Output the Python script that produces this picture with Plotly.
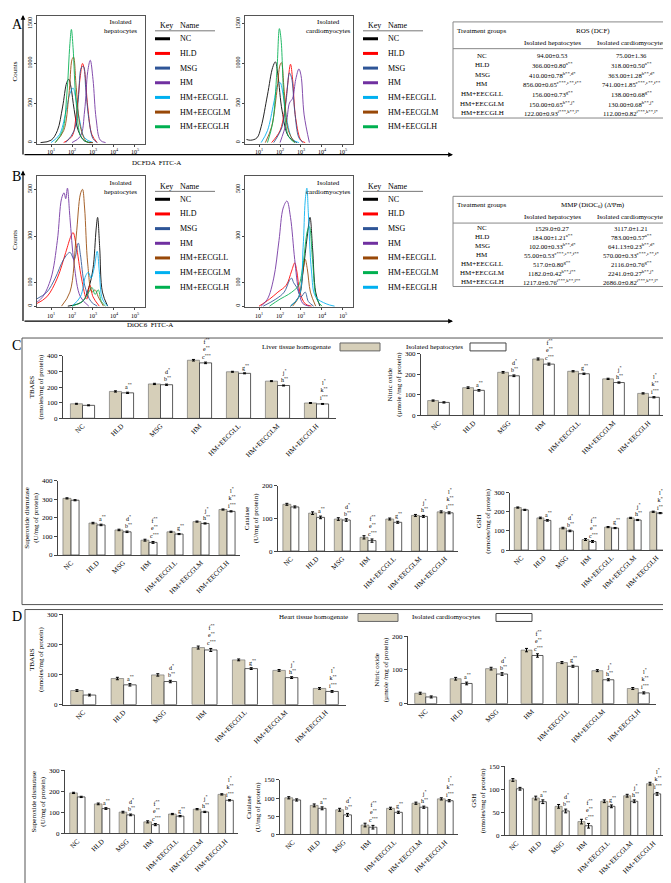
import plotly.graph_objects as go

W, H = 671, 883
FONT = "Liberation Serif"

GROUPS = ["NC", "HLD", "MSG", "HM", "HM+EECGLL", "HM+EECGLM", "HM+EECGLH"]

# ---------------- flow cytometry histograms (x = log10 intensity, y = counts)
A_HEP = {
    "NC": ([0.5, 1.0, 1.3, 1.55, 1.75, 1.85, 1.95, 2.1, 2.3, 2.6, 3.0], [0, 30, 150, 450, 760, 800, 700, 420, 150, 20, 0]),
    "HLD": ([1.6, 2.0, 2.2, 2.4, 2.5, 2.6, 2.75, 2.95, 3.2], [0, 80, 350, 850, 1000, 900, 450, 100, 0]),
    "MSG": ([1.7, 2.1, 2.3, 2.45, 2.55, 2.65, 2.8, 3.0, 3.2], [0, 150, 550, 950, 960, 700, 300, 50, 0]),
    "HM": ([2.0, 2.4, 2.6, 2.75, 2.87, 3.0, 3.15, 3.35, 3.6], [0, 80, 400, 900, 1040, 800, 300, 30, 0]),
    "HM+EECGLL": ([1.0, 1.4, 1.7, 1.9, 2.05, 2.15, 2.35, 2.6, 3.0], [0, 100, 380, 620, 690, 600, 300, 60, 0]),
    "HM+EECGLM": ([1.2, 1.6, 1.85, 2.0, 2.07, 2.2, 2.4, 2.7, 3.0], [0, 150, 600, 1050, 1080, 700, 200, 10, 0]),
    "HM+EECGLH": ([1.2, 1.55, 1.75, 1.9, 1.97, 2.05, 2.2, 2.45, 2.8], [0, 150, 600, 1250, 1430, 1200, 500, 60, 0]),
}
A_CAR = {
    "NC": ([0.4, 0.6, 0.9, 1.1, 1.4, 1.65, 1.78, 1.9, 2.1, 2.4, 2.8], [40, 30, 60, 200, 600, 950, 1020, 850, 400, 80, 0]),
    "HLD": ([1.6, 2.0, 2.2, 2.35, 2.5, 2.6, 2.75, 3.0, 3.2], [0, 150, 380, 700, 990, 800, 300, 30, 0]),
    "MSG": ([1.7, 2.1, 2.3, 2.45, 2.55, 2.7, 2.9, 3.1], [0, 200, 550, 880, 820, 400, 60, 0]),
    "HM": ([2.0, 2.3, 2.45, 2.6, 2.75, 2.9, 3.0, 3.15, 3.4], [0, 250, 500, 560, 800, 930, 850, 350, 0]),
    "HM+EECGLL": ([1.1, 1.4, 1.7, 1.9, 2.0, 2.15, 2.35, 2.6, 2.9], [0, 150, 500, 740, 760, 600, 250, 40, 0]),
    "HM+EECGLM": ([1.3, 1.6, 1.85, 2.0, 2.07, 2.2, 2.4, 2.7], [0, 200, 650, 980, 1010, 650, 150, 0]),
    "HM+EECGLH": ([1.4, 1.65, 1.85, 1.97, 2.05, 2.2, 2.4, 2.7], [0, 250, 900, 1440, 1300, 500, 80, 0]),
}
B_HEP = {
    "NC": ([1.8, 2.5, 2.8, 3.0, 3.15, 3.22, 3.32, 3.45, 3.7], [0, 20, 80, 160, 330, 380, 250, 60, 0]),
    "HLD": ([0.3, 0.8, 1.3, 1.7, 1.95, 2.05, 2.2, 2.45, 2.7, 2.85, 3.0, 3.3], [10, 40, 120, 230, 300, 315, 260, 120, 30, 90, 40, 0]),
    "MSG": ([0.3, 0.8, 1.2, 1.6, 1.9, 2.1, 2.3, 2.4, 2.6, 2.9, 3.2], [30, 60, 120, 200, 230, 200, 270, 220, 90, 20, 0]),
    "HM": ([0.26, 0.32, 0.6, 1.0, 1.3, 1.5, 1.62, 1.7, 1.78, 1.9, 2.1, 2.4, 2.8], [60, 20, 40, 120, 280, 460, 485, 460, 505, 380, 180, 40, 0]),
    "HM+EECGLL": ([1.5, 1.9, 2.2, 2.4, 2.5, 2.6, 2.75, 2.95, 3.1, 3.25, 3.5], [0, 60, 300, 480, 500, 420, 180, 60, 70, 40, 0]),
    "HM+EECGLM": ([2.0, 2.4, 2.65, 2.78, 2.9, 3.05, 3.2, 3.3, 3.45, 3.7], [0, 40, 130, 145, 120, 160, 235, 150, 30, 0]),
    "HM+EECGLH": ([2.0, 2.5, 2.8, 2.95, 3.1, 3.25, 3.4, 3.6], [0, 20, 60, 80, 50, 70, 20, 0]),
}
B_CAR = {
    "NC": ([2.5, 2.9, 3.1, 3.3, 3.43, 3.55, 3.7, 3.9], [0, 40, 150, 300, 380, 250, 60, 0]),
    "HLD": ([1.0, 1.5, 1.9, 2.3, 2.55, 2.7, 2.8, 2.95, 3.2, 3.5], [0, 30, 60, 90, 150, 185, 150, 60, 10, 0]),
    "MSG": ([1.2, 1.8, 2.2, 2.45, 2.55, 2.65, 2.8, 3.0, 3.2, 3.35, 3.6], [0, 30, 60, 110, 120, 100, 80, 40, 60, 20, 0]),
    "HM": ([1.1, 1.4, 1.7, 1.95, 2.15, 2.33, 2.5, 2.7, 2.9, 3.1, 3.4], [0, 30, 120, 280, 420, 450, 380, 200, 60, 10, 0]),
    "HM+EECGLL": ([2.6, 2.9, 3.05, 3.2, 3.3, 3.45, 3.7], [0, 40, 120, 200, 160, 60, 0]),
    "HM+EECGLM": ([1.5, 2.0, 2.4, 2.7, 2.9, 3.1, 3.3, 3.4, 3.55, 3.75, 4.0], [0, 30, 50, 70, 90, 180, 320, 340, 200, 30, 0]),
    "HM+EECGLH": ([2.5, 2.9, 3.1, 3.2, 3.28, 3.35, 3.5, 3.7, 4.2, 4.6], [0, 40, 250, 450, 505, 400, 150, 40, 10, 0]),
}
A_COLORS = {"NC": "#000000", "HLD": "#ff0000", "MSG": "#2e5597", "HM": "#7030a0",
            "HM+EECGLL": "#00b0f0", "HM+EECGLM": "#984807", "HM+EECGLH": "#00b050"}
B_HEP_COLORS = {"NC": "#000000", "HLD": "#ff0000", "MSG": "#2e5597", "HM": "#7030a0",
                "HM+EECGLL": "#984807", "HM+EECGLM": "#00b0f0", "HM+EECGLH": "#00b050"}
B_CAR_COLORS = {"NC": "#000000", "HLD": "#ff0000", "MSG": "#2e5597", "HM": "#7030a0",
                "HM+EECGLL": "#984807", "HM+EECGLM": "#00b050", "HM+EECGLH": "#00b0f0"}

# ---------------- tables
ROS_HEP = ["94.00±0.53", "366.00±0.80<sup>a**</sup>", "410.00±0.78<sup>b**,d*</sup>",
           "856.00±0.65<sup>c***,e**,f**</sup>", "156.00±0.73<sup>g**</sup>",
           "150.00±0.65<sup>h**,j*</sup>", "122.00±0.93<sup>i***,k**,l*</sup>"]
ROS_CAR = ["75.00±1.36", "318.00±0.50<sup>a**</sup>", "363.00±1.28<sup>b**,d*</sup>",
           "741.00±1.85<sup>c***,e**,f**</sup>", "138.00±0.68<sup>g**</sup>",
           "130.00±0.68<sup>h**,j*</sup>", "112.00±0.82<sup>i***,k**,l*</sup>"]
MMP_HEP = ["1529.0±0.27", "184.00±1.21<sup>a**</sup>", "102.00±0.33<sup>b**,d*</sup>",
           "55.00±0.53<sup>c***,e**,f**</sup>", "517.0±0.80<sup>g**</sup>",
           "1182.0±0.42<sup>h**,j**</sup>", "1217.0±0.76<sup>i***,k**,l**</sup>"]
MMP_CAR = ["3117.0±1.21", "783.00±0.57<sup>a**</sup>", "641.13±0.23<sup>b**,d*</sup>",
           "570.00±0.33<sup>c***,e**,f*</sup>", "2116.0±0.76<sup>g**</sup>",
           "2241.0±0.27<sup>h**,j*</sup>", "2686.0±0.82<sup>i***,k**,l*</sup>"]

# ---------------- biochemical bar data (tissue homogenate, isolated cells, errors)
C_TBARS_T = [93, 172, 220, 372, 298, 238, 98];   C_TBARS_C = [83, 163, 215, 355, 288, 210, 92]
C_NO_T = [72, 135, 210, 275, 215, 178, 107];     C_NO_C = [63, 122, 193, 250, 203, 160, 88]
C_SOD_T = [305, 172, 135, 80, 125, 180, 245];    C_SOD_C = [295, 162, 125, 68, 113, 170, 235]
C_CAT_T = [143, 116, 98, 42, 98, 109, 120];      C_CAT_C = [135, 103, 95, 32, 88, 106, 117]
C_GSH_T = [222, 168, 115, 55, 120, 168, 200];    C_GSH_C = [210, 155, 100, 45, 115, 157, 193]
D_TBARS_T = [47, 87, 99, 190, 149, 114, 54];     D_TBARS_C = [32, 66, 77, 182, 120, 90, 44]
D_NO_T = [31, 74, 104, 159, 122, 98, 45];        D_NO_C = [20, 60, 88, 143, 111, 71, 32]
D_SOD_T = [192, 140, 101, 55, 92, 115, 185];     D_SOD_C = [173, 118, 88, 42, 82, 102, 157]
D_CAT_T = [101, 80, 68, 26, 72, 86, 98];         D_CAT_C = [95, 72, 54, 20, 61, 75, 93]
D_GSH_T = [120, 81, 63, 30, 74, 86, 112];        D_GSH_C = [101, 73, 53, 21, 63, 74, 90]
ERR_T = [3, 4, 4, 5, 3, 3, 3]
ERR_C = [3, 4, 4, 5, 3, 3, 3]
SIG = ["", "a<sup>**</sup>", "d<sup>*</sup><br>b<sup>**</sup>",
       "f<sup>**</sup><br>e<sup>**</sup><br>c<sup>***</sup>", "g<sup>**</sup>",
       "j<sup>*</sup><br>h<sup>**</sup>", "l<sup>*</sup><br>k<sup>**</sup><br>i<sup>***</sup>"]

# ---------------- helpers
def px(x):
    return x / W

def py(y):
    return 1 - y / H

def txt(x, y, text, size=7, xa="center", ya="middle", angle=0, color="black"):
    return dict(x=px(x), y=py(y), xref="paper", yref="paper", text=text, showarrow=False,
                xanchor=xa, yanchor=ya, textangle=angle,
                font=dict(family=FONT, size=size, color=color))

def rect(x0, y0, x1, y1, fill="rgba(0,0,0,0)", color="#444", width=1):
    return dict(type="rect", xref="paper", yref="paper", x0=px(x0), x1=px(x1),
                y0=py(y1), y1=py(y0), fillcolor=fill, line=dict(color=color, width=width))

def hline(x0, x1, y, color="#444", width=1):
    return dict(type="line", xref="paper", yref="paper", x0=px(x0), x1=px(x1),
                y0=py(y), y1=py(y), line=dict(color=color, width=width))

fig = go.Figure()
annotations, shapes, layout = [], [], {}

# ---------------- histograms
hist_specs = [
    (A_HEP, A_COLORS, 29, 137, 4, 133, [-15, 1600], [0, 500, 1000, 1500], "Isolated<br>hepatocytes"),
    (A_CAR, A_COLORS, 237, 345, 4, 133, [-15, 1600], [0, 500, 1000, 1500], "Isolated<br>cardiomyocytes"),
    (B_HEP, B_HEP_COLORS, 29, 137, 166, 298, [-5, 555], [0, 100, 300, 500], "Isolated<br>hepatocytes"),
    (B_CAR, B_CAR_COLORS, 237, 345, 166, 298, [-5, 555], [0, 100, 300, 500], "Isolated<br>cardiomyocytes"),
]
n = 0
for data, cols, x0, x1, y0, y1, yr, yt, label in hist_specs:
    n += 1
    for name in GROUPS:
        xs, ys = data[name]
        fig.add_trace(go.Scatter(x=xs, y=ys, mode="lines", line=dict(color=cols[name], width=1, shape="spline"),
                                 opacity=0.85, showlegend=False, xaxis=f"x{n}", yaxis=f"y{n}"))
    layout[f"xaxis{n}"] = dict(domain=[px(x0), px(x1)], anchor=f"y{n}", range=[0.33, 5.48],
                               tickvals=[1, 2, 3, 4, 5],
                               ticktext=["10<sup>1</sup>", "10<sup>2</sup>", "10<sup>3</sup>", "10<sup>4</sup>", "10<sup>5</sup>"],
                               tickfont=dict(family=FONT, size=6), ticks="outside", ticklen=2,
                               showline=True, mirror=True, linecolor="#555", linewidth=1,
                               showgrid=False, zeroline=False)
    layout[f"yaxis{n}"] = dict(domain=[py(y1), py(y0)], anchor=f"x{n}", range=yr, tickvals=yt,
                               tickangle=-90, tickfont=dict(family=FONT, size=6), ticks="outside", ticklen=2,
                               showline=True, mirror=True, linecolor="#555", linewidth=1,
                               showgrid=False, zeroline=False)
    annotations.append(txt(x1 - 25, y0 + 11, label, size=7))
    # legend
    lx = x1 + 10
    annotations.append(txt(lx + 3, y0 + 10, "Key", size=8, xa="left"))
    annotations.append(txt(lx + 23, y0 + 10, "Name", size=8, xa="left"))
    hy = y0 + 15
    shapes.append(hline(lx, lx + 60, hy, color="#777"))
    for i, name in enumerate(GROUPS):
        ry = hy + 8 + i * 14.8
        shapes.append(hline(lx, lx + 15, ry, color=cols[name], width=3))
        annotations.append(txt(lx + 23, ry, name, size=8, xa="left"))

annotations.append(txt(7, 60, "Counts", size=7, angle=-90))
annotations.append(txt(7, 230, "Counts", size=7, angle=-90))
annotations.append(txt(148, 152, "DCFDA  FITC-A", size=7))
annotations.append(txt(142, 316, "DiOC6  FITC-A", size=7))
annotations.append(txt(2, 13, "A", size=14, xa="left"))
annotations.append(txt(2, 166, "B", size=14, xa="left"))
annotations.append(txt(2, 337, "C", size=14, xa="left"))
annotations.append(txt(2, 610, "D", size=14, xa="left"))

# arrows of panels A and B
for top, bottom in [(3, 144), (160, 312)]:
    annotations.append(dict(x=px(15), y=py(top), xref="paper", yref="paper", ax=0, ay=bottom - top,
                            text="", showarrow=True, arrowhead=2, arrowsize=0.8, arrowwidth=1.2, arrowcolor="black"))
    annotations.append(dict(x=px(445), y=py(bottom), xref="paper", yref="paper", ax=-430, ay=0,
                            text="", showarrow=True, arrowhead=2, arrowsize=0.8, arrowwidth=1.2, arrowcolor="black"))

# ---------------- tables
def table(top, bottom, head2, hep, car, row0, step):
    shapes.append(rect(445, top, 666, bottom, color="#888"))
    annotations.append(txt(474, top + 9, "Treatment groups", size=7))
    annotations.append(txt(585, top + 9, head2, size=7))
    shapes.append(hline(445, 666, top + 27, color="#888"))
    annotations.append(txt(544, top + 21, "Isolated hepatocytes", size=7))
    annotations.append(txt(623, top + 21, "Isolated cardiomyocytes", size=7))
    for i, g in enumerate(GROUPS):
        y = row0 + i * step
        annotations.append(txt(474, y, g, size=7))
        annotations.append(txt(544, y, hep[i], size=6.7))
        annotations.append(txt(623, y, car[i], size=6.7))

table(10, 107, "ROS (DCF)", ROS_HEP, ROS_CAR, 44, 9.7)
table(186, 277, "MMP (DiOC<sub>6</sub>) (ΔΨm)", MMP_HEP, MMP_CAR, 218, 9.1)

# ---------------- bar charts
TAN = "#d6cfb9"
bar_specs = [
    (C_TBARS_T, C_TBARS_C, 55, 328, 347, 410, 400, 100, "TBARS<br>(nmoles/mg of protein)"),
    (C_NO_T, C_NO_C, 413, 658, 345, 407, 300, 100, "Nitric oxide<br>(µmole /mg of protein)"),
    (C_SOD_T, C_SOD_C, 50, 232, 473, 548, 400, 100, "Superoxide dismutase<br>(U/mg of protein)"),
    (C_CAT_T, C_CAT_C, 270, 450, 478, 544, 200, 100, "Catalase<br>(U/mg of protein)"),
    (C_GSH_T, C_GSH_C, 502, 660, 485, 543, 300, 100, "GSH<br>(nmoles/mg of protein)"),
    (D_TBARS_T, D_TBARS_C, 55, 338, 608, 699, 300, 100, "TBARS<br>(nmoles/mg of protein)"),
    (D_NO_T, D_NO_C, 400, 648, 630, 698, 200, 100, "Nitric oxide<br>(µmole /mg of protein)"),
    (D_SOD_T, D_SOD_C, 57, 230, 765, 829, 300, 100, "Superoxide dismutase<br>(U/mg of protein)"),
    (D_CAT_T, D_CAT_C, 272, 450, 775, 830, 150, 50, "Catalase<br>(U/mg of protein)"),
    (D_GSH_T, D_GSH_C, 497, 657, 761, 831, 150, 50, "GSH<br>(nmoles/mg of protein)"),
]
BARGAP = 0.38
for tis, cel, x0, x1, ytop, yzero, ymax, dt, ytitle in bar_specs:
    n += 1
    fig.add_trace(go.Bar(x=GROUPS, y=tis, marker=dict(color=TAN, line=dict(color="#666", width=0.6)),
                         error_y=dict(type="data", array=ERR_T, color="black", thickness=1, width=1.5),
                         showlegend=False, xaxis=f"x{n}", yaxis=f"y{n}"))
    fig.add_trace(go.Bar(x=GROUPS, y=cel, marker=dict(color="white", line=dict(color="#333", width=0.8)),
                         error_y=dict(type="data", array=ERR_C, color="black", thickness=1, width=1.5),
                         showlegend=False, xaxis=f"x{n}", yaxis=f"y{n}"))
    layout[f"xaxis{n}"] = dict(domain=[px(x0), px(x1)], anchor=f"y{n}", type="category",
                               tickangle=-45, tickfont=dict(family=FONT, size=7), ticks="",
                               showline=True, linecolor="#444", linewidth=1, showgrid=False)
    layout[f"yaxis{n}"] = dict(domain=[py(yzero), py(ytop)], anchor=f"x{n}", range=[0, ymax], dtick=dt,
                               tickfont=dict(family=FONT, size=7), ticks="outside", ticklen=3,
                               showline=True, linecolor="#444", linewidth=1, showgrid=False, zeroline=False,
                               title=dict(text=ytitle, font=dict(family=FONT, size=7), standoff=2))
    spacing = (x1 - x0) / len(GROUPS)
    off = spacing * (1 - BARGAP) / 4
    for j, s in enumerate(SIG):
        if not s:
            continue
        annotations.append(dict(x=GROUPS[j], y=cel[j] + ERR_C[j], xref=f"x{n}", yref=f"y{n}",
                                text=s, showarrow=False, xanchor="center", yanchor="bottom",
                                xshift=off + 1, font=dict(family=FONT, size=6, color="black")))

# boxes and legends of C and D
shapes.append(rect(14, 329, 665, 598, color="#555"))
shapes.append(rect(17, 603, 665, 880, color="#555"))
annotations.append(txt(325, 338, "Liver tissue homogenate", size=7, xa="right"))
shapes.append(rect(332, 334, 372, 342, fill=TAN, color="#666"))
annotations.append(txt(457, 338, "Isolated hepatocytes", size=7, xa="right"))
shapes.append(rect(462, 334, 498, 342, fill="white", color="#444"))
annotations.append(txt(342, 611, "Heart tissue homogenate", size=7, xa="right"))
shapes.append(rect(350, 607, 390, 615, fill=TAN, color="#666"))
annotations.append(txt(475, 611, "Isolated cardiomyocytes", size=7, xa="right"))
shapes.append(rect(488, 607, 524, 615, fill="white", color="#444"))

fig.update_layout(width=W, height=H, margin=dict(l=0, r=0, t=0, b=0),
                  paper_bgcolor="white", plot_bgcolor="white", barmode="group",
                  bargap=BARGAP, bargroupgap=0, font=dict(family=FONT, size=7, color="black"),
                  annotations=annotations, shapes=shapes, **layout)
fig.write_html("out.html")
